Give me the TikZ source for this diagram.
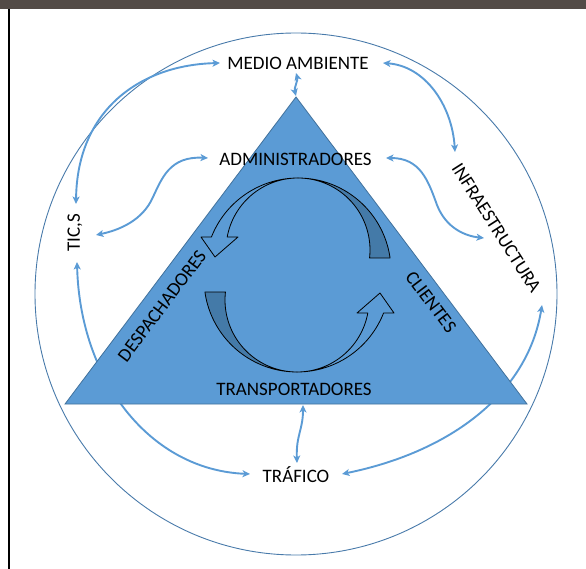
\documentclass[tikz,border=0pt]{standalone}
\usepackage{fontspec}
\setmainfont{Carlito}
\usetikzlibrary{arrows.meta}
\definecolor{triblue}{RGB}{91,155,213}
\definecolor{triedge}{RGB}{65,113,156}
\definecolor{darkband}{RGB}{68,122,168}
\definecolor{conblue}{RGB}{91,155,213}
\definecolor{ringblue}{RGB}{72,122,170}
\definecolor{topbar}{RGB}{83,75,71}
\newcommand\cyclearrowshape{%
  \filldraw[band, fill=darkband]
    plot[domain=6.38:-90, samples=40] ({298+72*cos(\x)},{250+72*sin(\x)})
    -- plot[domain=-90:-8.04, samples=40] ({298+93*cos(\x)},{271+93*sin(\x)})
    -- cycle;
  \filldraw[band, fill=triblue]
    plot[domain=270:201.4, samples=40] ({298+93*cos(\x)},{271+93*sin(\x)})
    -- (201,237) -- (215,257) -- (238,237) -- (227.2,237)
    -- plot[domain=190.4:270, samples=40] ({298+72*cos(\x)},{250+72*sin(\x)})
    -- cycle;
}
\begin{document}
\begin{tikzpicture}[x=1pt,y=-1pt,
  lbl/.style={font=\fontsize{19}{22}\selectfont, inner sep=0pt, text=black},
  con/.style={draw=conblue, line width=1.9pt,
    {Stealth[length=7.5pt,width=7pt,inset=2pt]}-{Stealth[length=7.5pt,width=7pt,inset=2pt]}},
  band/.style={draw=black, line width=0.8pt, line join=round}]
\useasboundingbox (0,0) rectangle (586,569);
\fill[topbar] (0,0) rectangle (586,9.5);
\draw[black, line width=2pt] (8.5,9.5) -- (8.5,569);
\node[circle, draw=ringblue, line width=0.9pt, minimum size=522pt, inner sep=0pt] (ring) at (296,294) {};
% connector ends
\coordinate (me1) at (220,63);
\coordinate (tic1) at (76,204);
\coordinate (me2) at (296,73);
\coordinate (ap) at (296,96);
\coordinate (me3) at (383,63);
\coordinate (inf1) at (455,152);
\coordinate (adm1) at (208,158);
\coordinate (tic2) at (96,235);
\coordinate (adm2) at (386,158);
\coordinate (inf2) at (484,238);
\coordinate (tic3) at (77,262);
\coordinate (tr1) at (250,474);
\coordinate (tr2) at (342,474);
\coordinate (inf3) at (542,305);
\coordinate (tb) at (303,405);
\coordinate (tr3) at (297,463);
% connectors behind triangle
\draw[con] (me1) .. controls (140,65) and (77,110) .. (tic1);
\draw[con] (me3) .. controls (425,66) and (452,105) .. (inf1);
\draw[con] (adm1) .. controls (170,156) and (162,178) .. (153,197) .. controls (143,220) and (120,230) .. (tic2);
\draw[con] (adm2) .. controls (420,158) and (428,180) .. (437,205) .. controls (446,228) and (465,236) .. (inf2);
\draw[con] (tic3) .. controls (80,380) and (150,470) .. (tr1);
\draw[con] (tr2) .. controls (450,452) and (527.6,394) .. (inf3);
% triangle
\coordinate (apex) at (296,97);
\coordinate (bl) at (65,404);
\coordinate (br) at (527,404);
\filldraw[fill=triblue, draw=triedge, line width=0.8pt] (apex) -- (br) -- (bl) -- cycle;
\draw[con] (me2) .. controls (298,80) and (294,88) .. (ap);
\draw[con] (tb) .. controls (303,430) and (296,435) .. (tr3);
% cycle arrows
\cyclearrowshape
\begin{scope}[rotate around={180:(297.5,275)}]
\cyclearrowshape
\end{scope}
% labels
\node[lbl] (me) at (298,63.5) {MEDIO AMBIENTE};
\node[lbl] (adm) at (295.5,159) {ADMINISTRADORES};
\node[lbl] (tra) at (294,389) {TRANSPORTADORES};
\node[lbl] (traf) at (296,474.5) {TRÁFICO};
\node[lbl, rotate=90] (tic) at (75,233) {TIC,S};
\node[lbl, rotate=-57.4] (inf) at (496.5,228) {INFRAESTRUCTURA};
\node[lbl, rotate=53] (desp) at (162,306) {DESPACHADORES};
\node[lbl, rotate=-53] (cli) at (431,302) {CLIENTES};
\end{tikzpicture}
\end{document}
